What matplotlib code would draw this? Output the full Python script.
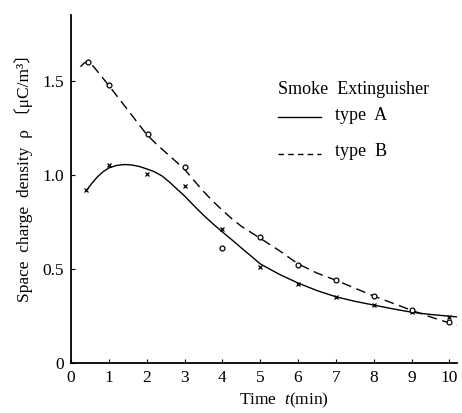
import matplotlib
matplotlib.use("Agg")
import matplotlib.pyplot as plt
from matplotlib.lines import Line2D

plt.rcParams['font.family'] = ['Liberation Serif', 'Noto Sans CJK JP', 'DejaVu Sans']
plt.rcParams['mathtext.fontset'] = 'custom'
plt.rcParams['mathtext.rm'] = 'Liberation Serif'
plt.rcParams['mathtext.it'] = 'Liberation Serif:italic'

# measured points
t_a = [0.4, 1.0, 2.0, 3.0, 4.0, 5.0, 6.0, 7.0, 8.0, 9.0, 10.0]
rho_a = [0.92, 1.05, 1.005, 0.94, 0.71, 0.51, 0.42, 0.35, 0.31, 0.27, 0.245]
t_b = [0.45, 1.0, 2.03, 3.0, 4.0, 5.0, 6.0, 7.0, 8.0, 9.0, 10.0]
rho_b = [1.60, 1.48, 1.22, 1.04, 0.61, 0.67, 0.52, 0.44, 0.356, 0.28, 0.22]

# fitted curves
curve_a_t = [0.4, 0.55, 0.7, 0.85, 1.0, 1.2, 1.4, 1.6, 1.8, 2.0, 2.2, 2.4, 2.6, 2.8, 3.0,
             3.25, 3.5, 3.75, 4.0, 4.25, 4.5, 4.75, 5.0, 5.5, 6.0, 6.5, 7.0, 7.5, 8.0,
             8.5, 9.0, 9.5, 10.2]
curve_a_rho = [0.915, 0.955, 0.99, 1.017, 1.037, 1.05, 1.055, 1.053, 1.045, 1.032, 1.017,
               0.995, 0.962, 0.925, 0.888, 0.836, 0.786, 0.74, 0.697, 0.655, 0.612, 0.57,
               0.527, 0.472, 0.425, 0.385, 0.352, 0.328, 0.308, 0.288, 0.27, 0.258, 0.245]
curve_b_t = [0.25, 0.35, 0.45, 0.6, 0.8, 1.0, 1.25, 1.5, 1.75, 2.0, 2.25, 2.5, 2.75, 3.0,
             3.25, 3.5, 3.75, 4.0, 4.25, 4.5, 4.75, 5.0, 5.5, 6.0, 6.5, 7.0, 7.5, 8.0,
             8.5, 9.0, 9.5, 10.2]
curve_b_rho = [1.575, 1.595, 1.603, 1.575, 1.525, 1.475, 1.41, 1.345, 1.28, 1.215, 1.165,
               1.12, 1.075, 1.03, 0.97, 0.912, 0.86, 0.812, 0.767, 0.727, 0.695, 0.663,
               0.598, 0.527, 0.478, 0.44, 0.398, 0.356, 0.318, 0.28, 0.245, 0.20]

x_ticks = [0, 1, 2, 3, 4, 5, 6, 7, 8, 9, 10]
y_ticks = [0, 0.5, 1.0, 1.5]
y_tick_labels = ['0', '0.5', '1.0', '1.5']

W, H = 462, 413
fig = plt.figure(figsize=(W / 100, H / 100), dpi=100)
ax = fig.add_axes([71 / W, 50 / H, (457 - 71) / W, (363 - 15) / H])

ax.plot(curve_a_t, curve_a_rho, color='black', lw=1.0, solid_capstyle='round')
ax.plot(curve_b_t, curve_b_rho, color='black', lw=1.0, dashes=(7, 4))
ax.plot(t_a, rho_a, linestyle='none', marker='x', ms=3.5, mew=0.9, color='black')
ax.plot(t_b, rho_b, linestyle='none', marker='o', ms=3.5, mew=0.9, mfc='white', mec='black')

ax.set_xlim(0, 10.2)
ax.set_ylim(0, 1.85)
for s in ['top', 'right']:
    ax.spines[s].set_visible(False)
for s in ['left', 'bottom']:
    ax.spines[s].set_linewidth(1.3)
ax.set_xticks(x_ticks)
ax.set_xticklabels([str(v) for v in x_ticks])
ax.set_yticks(y_ticks)
ax.set_yticklabels(y_tick_labels)
ax.tick_params(direction='in', length=3, width=0.8, labelsize=12.5, pad=5)

fig.text(24 / W, 1 - 174 / H, 'Space  charge  density  ρ 〔μC/m³〕', rotation=90,
         ha='center', va='center', fontsize=12.5)
fig.text(284 / W, 1 - 400 / H, 'Time  $t$(min)', ha='center', va='center', fontsize=12.5)

# legend
fig.text(278 / W, 1 - 89 / H, 'Smoke  Extinguisher', ha='left', va='center', fontsize=13)
fig.add_artist(Line2D([278 / W, 321 / W], [1 - 117 / H, 1 - 117 / H], color='black', lw=1.0))
fig.text(335 / W, 1 - 115 / H, 'type  A', ha='left', va='center', fontsize=13)
fig.add_artist(Line2D([278 / W, 321 / W], [1 - 154 / H, 1 - 154 / H], color='black', lw=1.0,
                      dashes=(4, 3)))
fig.text(335 / W, 1 - 152 / H, 'type  B', ha='left', va='center', fontsize=13)

fig.savefig('out.png', dpi=100)
